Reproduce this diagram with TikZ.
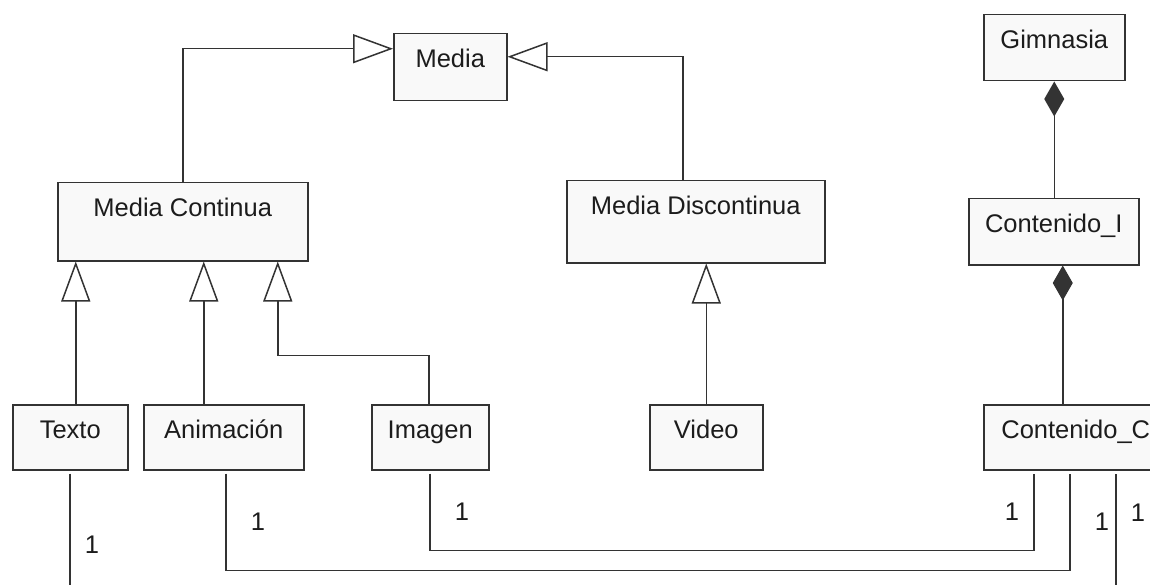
\documentclass[tikz,border=0pt]{standalone}
\usepackage{fontspec}
\setmainfont{Liberation Sans}
\usetikzlibrary{arrows.meta}
\definecolor{ink}{HTML}{333333}
\definecolor{boxfill}{HTML}{F9F9F9}
\definecolor{txt}{HTML}{1C1C1C}
\begin{document}
\begin{tikzpicture}[x=1pt,y=-1pt,
  umlclass/.style={draw=ink, fill=boxfill, line width=1.5pt, inner sep=0pt,
    anchor=north west, text=txt, font=\fontsize{25.5}{30}\selectfont, text height=34pt},
  gen/.style={draw=ink, line width=1.5pt, -{Triangle[open,length=40pt,width=29pt]}},
  comp/.style={draw=ink, line width=1.5pt, {Diamond[length=35pt,width=20pt]}-},
  assoc/.style={draw=ink, line width=1.5pt, shorten <=3pt, shorten >=3pt},
  mult/.style={text=txt, inner sep=0pt, font=\fontsize{25.5}{30}\selectfont}]
\useasboundingbox (0,0) rectangle (1150,585);
\fill[white] (0,0) rectangle (1150,585);
\clip (0,0) rectangle (1150,585);

% classes
\node[umlclass, minimum width=113pt, text depth=33pt] (media) at (393,33) {Media};
\node[umlclass, minimum width=250pt, text depth=44pt] (mc) at (57,182) {Media Continua};
\node[umlclass, minimum width=258pt, text depth=48pt] (md) at (566,180) {Media Discontinua};
\node[umlclass, minimum width=141pt, text depth=32pt] (gym) at (983,14) {Gimnasia};
\node[umlclass, minimum width=170pt, text depth=32pt] (ci) at (968,198) {Contenido\_I};
\node[umlclass, minimum width=115pt, text depth=31pt] (texto) at (12,404) {Texto};
\node[umlclass, minimum width=160pt, text depth=31pt] (anim) at (143,404) {Animación};
\node[umlclass, minimum width=117pt, text depth=31pt] (imagen) at (371,404) {Imagen};
\node[umlclass, minimum width=113pt, text depth=31pt] (video) at (649,404) {Video};
\node[umlclass, minimum width=184pt, text depth=31pt] (cc) at (983,404) {Contenido\_C};

% generalisations
\draw[gen] (mc.north) |- ([yshift=18.5pt]media.west);
\draw[gen] ([xshift=-13pt]md.north) |- ([yshift=10.5pt]media.east);
\coordinate (tx) at ([xshift=5.5pt]texto.north);
\draw[gen] (tx) -- (tx |- mc.south);
\coordinate (an) at ([xshift=-20pt]anim.north);
\draw[gen] (an) -- (an |- mc.south);
\coordinate (mc3) at ([xshift=95pt]mc.south);
\draw[gen] ([xshift=-1.5pt]imagen.north) |- ([yshift=-94pt]mc3) -- (mc3);
\draw[gen] (video.north) -- (video.north |- md.south);

% compositions
\draw[comp] (gym.south) -- (gym.south |- ci.north);
\coordinate (cl) at ([xshift=9pt]ci.south);
\draw[comp] (cl) -- (cl |- cc.north);

% associations
\draw[assoc] ([xshift=-0.5pt]imagen.south) |- ([xshift=-42pt,yshift=-80pt]cc.south) -- ([xshift=-42pt]cc.south);
\draw[assoc] ([xshift=2pt]anim.south) |- ([xshift=-6pt,yshift=-100pt]cc.south) -- ([xshift=-6pt]cc.south);
\draw[assoc] ([xshift=-0.5pt]texto.south) |- ([xshift=40pt,yshift=-140pt]cc.south) -- ([xshift=40pt]cc.south);

% multiplicities
\node[mult] (m1) at (92,545) {1};
\node[mult] (m2) at (258,522) {1};
\node[mult] (m3) at (462,512) {1};
\node[mult] (m4) at (1012,512) {1};
\node[mult] (m5) at (1102,522) {1};
\node[mult] (m6) at (1138,513) {1};
\end{tikzpicture}
\end{document}
